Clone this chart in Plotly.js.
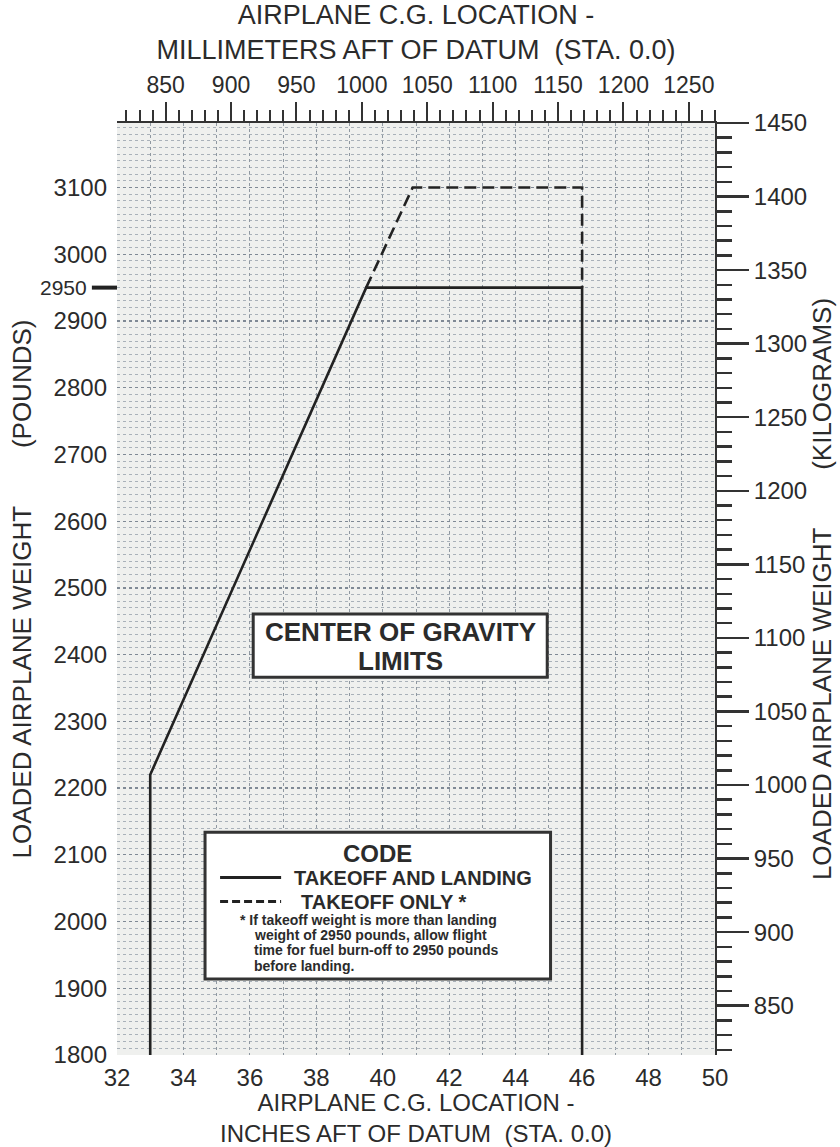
<!DOCTYPE html>
<html><head><meta charset="utf-8">
<script src="https://cdn.plot.ly/plotly-3.0.1.min.js"></script>
<style>html,body{margin:0;padding:0;background:#fff}#chart{width:840px;height:1147px}</style>
</head><body><div id="chart"></div>
<script>
// ---- data ----
const limitX = [33, 33, 39.5, 46, 46];            // inches aft of datum
const limitY = [1800, 2220, 2950, 2950, 1800];    // pounds
const takeoffX = [39.5, 40.9, 46, 46];
const takeoffY = [2950, 3100, 3100, 2950];
const inchTicks = [32, 34, 36, 38, 40, 42, 44, 46, 48, 50];
const mmTicks = [850, 900, 950, 1000, 1050, 1100, 1150, 1200, 1250];
const lbTicks = [1800, 1900, 2000, 2100, 2200, 2300, 2400, 2500, 2600, 2700, 2800, 2900, 3000, 3100];
const kgTicks = [850, 900, 950, 1000, 1050, 1100, 1150, 1200, 1250, 1300, 1350, 1400, 1450];
const landingWeight = [2950];
const footnoteLines = [
  "* If takeoff weight is more than landing",
  "weight of 2950 pounds, allow flight",
  "time for fuel burn-off to 2950 pounds",
  "before landing."
];

const IN_TO_MM = 25.4, LB_TO_KG = 0.45359237;
const FONT = 'Liberation Sans, Arial, Helvetica, sans-serif';
const INK = '#2b2b2b';
const xRange = [32, 50];
const yRange = [1800, 1450 / LB_TO_KG];
const GAP = '\u00a0'.repeat(8);

const traces = [
  {x: limitX, y: limitY, type: 'scatter', mode: 'lines', xaxis: 'x', yaxis: 'y',
   line: {color: '#222', width: 2.6}, hoverinfo: 'skip', showlegend: false},
  {x: takeoffX, y: takeoffY, type: 'scatter', mode: 'lines', xaxis: 'x', yaxis: 'y',
   line: {color: '#222', width: 2.6, dash: '12px,6px'}, hoverinfo: 'skip', showlegend: false},
  {x: limitX.map(v => v * IN_TO_MM), y: limitY.map(v => v * LB_TO_KG), type: 'scatter',
   mode: 'lines', xaxis: 'x2', yaxis: 'y2', opacity: 0, line: {width: 0},
   hoverinfo: 'skip', showlegend: false}
];

const px2x = p => 32 + (p - 117) / 33.2;   // helper for decoration placement only

const annotations = [
  {text: '<b>CENTER OF GRAVITY</b>', x: 40.52, y: 2434, xref: 'x', yref: 'y', showarrow: false,
   font: {family: FONT, size: 26, color: INK}},
  {text: '<b>LIMITS</b>', x: 40.52, y: 2390, xref: 'x', yref: 'y', showarrow: false,
   font: {family: FONT, size: 26, color: INK}},
  {text: '<b>CODE</b>', x: 39.85, y: 2102, xref: 'x', yref: 'y', showarrow: false,
   font: {family: FONT, size: 24, color: INK}},
  {text: '<b>TAKEOFF AND LANDING</b>', x: px2x(292), y: 2066, xref: 'x', yref: 'y', xanchor: 'left',
   showarrow: false, font: {family: FONT, size: 20, color: INK}},
  {text: '<b>TAKEOFF ONLY *</b>', x: px2x(299), y: 2030, xref: 'x', yref: 'y', xanchor: 'left',
   showarrow: false, font: {family: FONT, size: 20, color: INK}},
  {text: String(landingWeight[0]), x: -0.046, y: landingWeight[0], xref: 'paper', yref: 'y',
   xanchor: 'right', showarrow: false, font: {family: FONT, size: 21, color: INK}}
];
const fnY = [2003, 1980, 1957, 1934];
footnoteLines.forEach((t, i) => annotations.push({
  text: '<b>' + t + '</b>', x: px2x(i === 0 ? 238 : 252), y: fnY[i], xref: 'x', yref: 'y',
  xanchor: 'left', showarrow: false, font: {family: FONT, size: 14, color: INK}
}));

const shapes = [
  {type: 'rect', xref: 'x', yref: 'y', x0: 36.1, x1: 44.95, y0: 2366, y1: 2461,
   line: {color: '#333', width: 3}, fillcolor: '#ffffff', layer: 'above'},
  {type: 'rect', xref: 'x', yref: 'y', x0: 34.65, x1: 45.05, y0: 1914, y1: 2134,
   line: {color: '#333', width: 3}, fillcolor: '#ffffff', layer: 'above'},
  {type: 'line', xref: 'x', yref: 'y', x0: px2x(220), x1: px2x(281), y0: 2066, y1: 2066,
   line: {color: '#222', width: 3}},
  {type: 'line', xref: 'x', yref: 'y', x0: px2x(220), x1: px2x(281), y0: 2030, y1: 2030,
   line: {color: '#222', width: 3, dash: '8px,4px'}},
  {type: 'line', xref: 'paper', yref: 'y', x0: -0.042, x1: 0, y0: landingWeight[0], y1: landingWeight[0],
   line: {color: '#222', width: 4}}
];

const layout = {
  width: 840, height: 1147,
  margin: {l: 117, r: 125, t: 123, b: 92},
  paper_bgcolor: '#ffffff', plot_bgcolor: '#eff0ee',
  font: {family: FONT, color: INK, size: 24},
  showlegend: false,
  xaxis: {
    range: xRange, tickvals: inchTicks, ticktext: inchTicks.map(String), ticks: '',
    tickfont: {size: 24, color: INK}, ticklabelstandoff: 6,
    showgrid: true, gridcolor: '#8f98a1', gridwidth: 1, griddash: 'dot',
    minor: {dtick: 1, showgrid: true, gridcolor: '#8f98a1', gridwidth: 1, griddash: 'dot', ticks: ''},
    zeroline: false, showline: false, fixedrange: true,
    title: {text: 'AIRPLANE C.G. LOCATION -<br>INCHES AFT OF DATUM\u00a0\u00a0(STA. 0.0)',
            font: {size: 24, color: INK}, standoff: 8}
  },
  xaxis2: {
    overlaying: 'x', side: 'top', anchor: 'y',
    range: [xRange[0] * IN_TO_MM, xRange[1] * IN_TO_MM],
    tickvals: mmTicks, ticktext: mmTicks.map(String),
    ticks: 'outside', ticklen: 19, tickwidth: 2, tickcolor: '#333',
    minor: {dtick: 10, ticks: 'outside', ticklen: 11, tickwidth: 2, tickcolor: '#333', showgrid: false},
    tickfont: {size: 23, color: INK}, showgrid: false, zeroline: false,
    showline: true, linecolor: '#333', linewidth: 2, fixedrange: true,
    title: {text: 'AIRPLANE C.G. LOCATION -<br>MILLIMETERS AFT OF DATUM\u00a0\u00a0(STA. 0.0)',
            font: {size: 27, color: INK}, standoff: 4}
  },
  yaxis: {
    range: yRange, tickvals: lbTicks, ticktext: lbTicks.map(String), ticks: '',
    tickfont: {size: 24, color: INK}, ticklabelstandoff: 9,
    showgrid: true, gridcolor: '#7f8995', gridwidth: 1.3, griddash: 'dot',
    minor: {dtick: 10, showgrid: true, gridcolor: '#a9b1b9', gridwidth: 1, griddash: 'dot', ticks: ''},
    zeroline: false, showline: false, fixedrange: true,
    title: {text: 'LOADED AIRPLANE WEIGHT' + GAP + '(POUNDS)',
            font: {size: 26, color: INK}, standoff: 14}
  },
  yaxis2: {
    overlaying: 'y', side: 'right', anchor: 'x',
    range: [yRange[0] * LB_TO_KG, 1450],
    tickvals: kgTicks, ticktext: kgTicks.map(String),
    ticks: 'outside', ticklen: 32, tickwidth: 2.5, tickcolor: '#333',
    minor: {dtick: 10, ticks: 'outside', ticklen: 15, tickwidth: 2.5, tickcolor: '#333', showgrid: false},
    tickfont: {size: 24, color: INK}, showgrid: false, zeroline: false,
    showline: true, linecolor: '#333', linewidth: 2, fixedrange: true,
    title: {text: 'LOADED AIRPLANE WEIGHT' + GAP + '(KILOGRAMS)',
            font: {size: 26, color: INK}, standoff: 4}
  },
  shapes: shapes,
  annotations: annotations
};

Plotly.newPlot('chart', traces, layout, {staticPlot: true, displayModeBar: false});
</script>
</body></html>
